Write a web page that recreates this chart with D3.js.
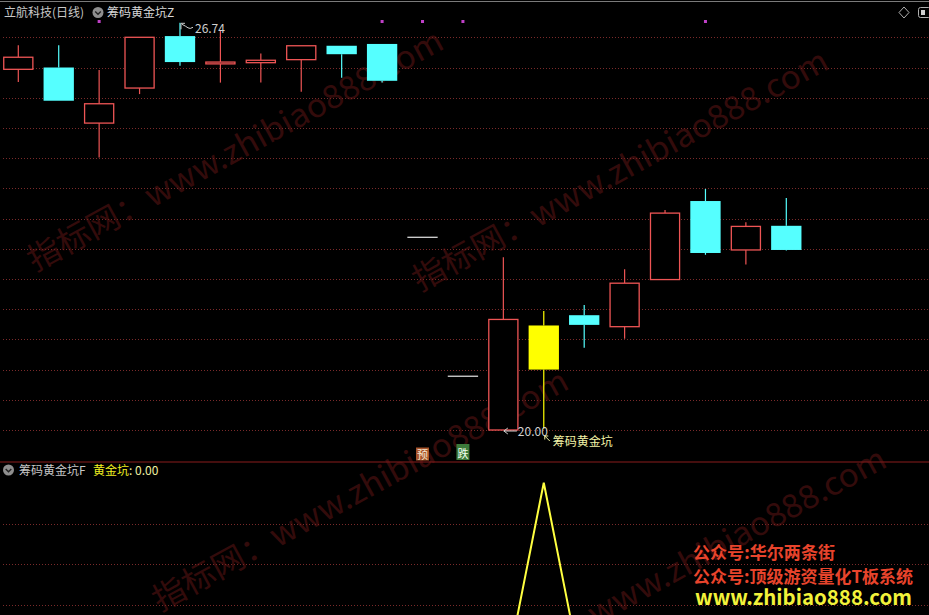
<!DOCTYPE html>
<html>
<head>
<meta charset="utf-8">
<script src="https://cdn.jsdelivr.net/npm/d3@7/dist/d3.min.js"></script>
<style>
  html, body { margin: 0; padding: 0; background: #000; }
  svg { display: block; }
  text { font-family: "Noto Sans CJK SC", "Noto Sans", sans-serif; }
</style>
</head>
<body>
<svg id="chart" width="929" height="615"></svg>
<script>
// ---------------- data ----------------
const categories = ["D01","D02","D03","D04","D05","D06","D07","D08","D09","D10",
                    "D11","D12","D13","D14","D15","D16","D17","D18","D19","D20"];
const openP  = [25.97, 26.00, 25.08, 25.66, 26.52, 26.06, 26.08, 26.13, 26.36, 26.39,
                23.19, 20.89, 20.00, 21.73, 21.90, 21.71, 22.49, 23.79, 22.98, 23.38];
const highP  = [26.37, 26.37, 25.96, 26.50, 26.74, 26.62, 26.23, 26.36, 26.36, 26.39,
                23.19, 20.89, 22.86, 21.97, 22.07, 22.66, 23.64, 23.99, 23.44, 23.84];
const lowP   = [25.76, 25.45, 24.51, 25.56, 26.03, 25.75, 25.75, 25.60, 25.83, 25.75,
                23.19, 20.89, 20.00, 20.02, 21.36, 21.51, 22.49, 22.90, 22.74, 22.97];
const closeP = [26.17, 25.45, 25.40, 26.50, 26.09, 26.09, 26.12, 26.36, 26.22, 25.78,
                23.19, 20.89, 21.83, 21.00, 21.74, 22.43, 23.59, 22.93, 23.37, 22.98];
// 黄金坑 indicator (lower panel)
const pitSignal = [0,0,0,0,0,0,0,0,0,0, 0,0,0,1,0,0,0,0,0,0];
// purple marker dots above candles
const markerIdx = [2, 9, 10, 11, 17];
// grid ticks
const priceTicks = [20.0,20.5,21.0,21.5,22.0,22.5,23.0,23.5,24.0,24.5,25.0,25.5,26.0,26.5];
const pitTicks = [0.4, 0.6, 0.8];
// labels
const stockTitle = "立航科技(日线)";
const indName = "筹码黄金坑Z";
const lowerName = "筹码黄金坑F";
const lowerVarName = "黄金坑";
const lowerValue = "0.00";
const maxLabel = "26.74", minLabel = "20.00", pitLabel = "筹码黄金坑";

// ---------------- layout ----------------
const W = 929, H = 615;
const svg = d3.select("#chart");
svg.append("rect").attr("width", W).attr("height", H).attr("fill", "#000");

const x = d3.scaleLinear().domain([0, 19]).range([18.3, 786.3]);
const step = x(1) - x(0);
const bw = step * 0.75;
const y = d3.scaleLinear().domain([20, 26.5]).range([430, 37.3]);
const y2 = d3.scaleLinear().domain([0, 1]).range([686.7, 482.7]);

const RED = "#ee5555", CYAN = "#55ffff", YEL = "#ffff00";
const GRID = "#7a2a2a";

// top border
svg.append("line").attr("x1", 0).attr("x2", W).attr("y1", 1.5).attr("y2", 1.5)
  .attr("stroke", "#7a7a7a").attr("stroke-width", 1.2);

// upper grid
svg.append("g").selectAll("line").data(priceTicks).join("line")
  .attr("x1", 3).attr("x2", W)
  .attr("y1", d => Math.round(y(d)) + 0.5).attr("y2", d => Math.round(y(d)) + 0.5)
  .attr("stroke", GRID).attr("stroke-dasharray", "1,2");

// lower grid
svg.append("g").selectAll("line").data(pitTicks).join("line")
  .attr("x1", 3).attr("x2", W)
  .attr("y1", d => Math.round(y2(d)) + 0.5).attr("y2", d => Math.round(y2(d)) + 0.5)
  .attr("stroke", GRID).attr("stroke-dasharray", "1,2");

// separator
svg.append("line").attr("x1", 0).attr("x2", W).attr("y1", 462).attr("y2", 462)
  .attr("stroke", "#8a1c1c").attr("stroke-width", 1.2);

// ---------------- watermarks (behind marks) ----------------
const wmText = "指标网：www.zhibiao888.com";
const wms = [[35, 272], [420, 292], [160, 612], [478, 690]];
svg.append("g").selectAll("text").data(wms).join("text")
  .attr("transform", d => `translate(${d[0]},${d[1]}) rotate(-28.6)`)
  .attr("font-size", 32).attr("fill", "#7a1c1c").attr("opacity", 0.42)
  .attr("textLength", 468).attr("lengthAdjust", "spacingAndGlyphs")
  .text(wmText);

// ---------------- candles ----------------
const candles = categories.map((c, i) => ({
  c, i, o: openP[i], h: highP[i], l: lowP[i], cl: closeP[i], sig: pitSignal[i]
}));
const gC = svg.append("g");
candles.forEach(d => {
  const cx = x(d.i);
  const top = Math.max(d.o, d.cl), bot = Math.min(d.o, d.cl);
  if (d.h === d.l) {
    gC.append("line").attr("x1", cx - bw / 2).attr("x2", cx + bw / 2)
      .attr("y1", y(d.h)).attr("y2", y(d.h)).attr("stroke", "#e8e8e8").attr("stroke-width", 1.2);
    return;
  }
  let col, hollow;
  if (d.sig) { col = YEL; hollow = false; }
  else if (d.cl >= d.o) { col = RED; hollow = true; }
  else { col = CYAN; hollow = false; }
  if (d.h > top) gC.append("line").attr("x1", cx).attr("x2", cx)
    .attr("y1", y(d.h)).attr("y2", y(top)).attr("stroke", col).attr("stroke-width", 1.2);
  if (d.l < bot) gC.append("line").attr("x1", cx).attr("x2", cx)
    .attr("y1", y(bot)).attr("y2", y(d.l)).attr("stroke", col).attr("stroke-width", 1.2);
  const ry = y(top), rh = Math.max(1, y(bot) - y(top));
  if (hollow) {
    gC.append("rect").attr("x", cx - bw / 2 + 0.6).attr("y", ry).attr("width", bw - 1.2)
      .attr("height", rh).attr("fill", "#000").attr("stroke", col).attr("stroke-width", 1.3);
  } else {
    gC.append("rect").attr("x", cx - bw / 2).attr("y", ry).attr("width", bw)
      .attr("height", rh).attr("fill", col);
  }
});

// markers
svg.append("g").selectAll("rect").data(markerIdx).join("rect")
  .attr("x", d => x(d) - 1.5).attr("y", 20).attr("width", 3).attr("height", 3)
  .attr("fill", "#c040c8");

// ---------------- annotations ----------------
const iMax = highP.indexOf(d3.max(highP));
const iMin = lowP.indexOf(d3.min(lowP));
const iPit = pitSignal.indexOf(1);
const LG = "#d0d0d0";
{
  const px = x(iMax) + 1, py = y(highP[iMax]) + 0.5;
  const g = svg.append("g").attr("stroke", LG).attr("stroke-width", 1).attr("fill", "none");
  g.append("path").attr("d", `M${px},${py + 6} L${px},${py} L${px + 4},${py}`);
  g.append("path").attr("d", `M${px + 1},${py + 1} Q${px + 5},${py + 3} ${px + 7},${py + 4.5} T${px + 12},${py + 4}`);
  svg.append("text").attr("x", px + 14).attr("y", py + 9.5).attr("fill", LG)
    .attr("font-size", 12).text(maxLabel);
}
{
  const px = x(iMin) + 0.5, py = y(lowP[iMin]) + 1;
  const g = svg.append("g").attr("stroke", LG).attr("stroke-width", 1).attr("fill", "none");
  g.append("path").attr("d", `M${px},${py} L${px + 13},${py} M${px},${py} L${px + 4},${py - 3} M${px},${py} L${px + 4},${py + 3}`);
  svg.append("text").attr("x", px + 14).attr("y", py + 4.5).attr("fill", LG)
    .attr("font-size", 12).text(minLabel);
}
{
  const px = x(iPit) + 1, py = 436;
  const g = svg.append("g").attr("stroke", "#f0f0a0").attr("stroke-width", 1).attr("fill", "none");
  g.append("path").attr("d", `M${px},${py} L${px + 5},${py + 5} M${px},${py} L${px + 3.5},${py} M${px},${py} L${px},${py + 3.5}`);
  svg.append("text").attr("x", px + 8).attr("y", py + 10).attr("fill", "#f4f4a8")
    .attr("font-size", 12).text(pitLabel);
}
function tagBox(cx, y0, h, bg, fg, t) {
  svg.append("rect").attr("x", cx - 6.5).attr("y", y0).attr("width", 13).attr("height", h).attr("fill", bg);
  svg.append("text").attr("x", cx).attr("y", y0 + h - 2).attr("text-anchor", "middle")
    .attr("font-size", 11).attr("fill", fg).text(t);
}
tagBox(x(10), 447.5, 13, "#a8542a", "#f8e8d0", "预");
tagBox(x(11), 444, 16, "#3c7a3a", "#f0fff0", "跌");

// ---------------- headers ----------------
function chevIcon(cx, cy) {
  svg.append("circle").attr("cx", cx).attr("cy", cy).attr("r", 5.5).attr("fill", "#8e8e8e");
  svg.append("path").attr("d", `M${cx - 2.8},${cy - 1} L${cx},${cy + 1.8} L${cx + 2.8},${cy - 1}`)
    .attr("stroke", "#222").attr("stroke-width", 1.4).attr("fill", "none");
}
svg.append("text").attr("x", 4).attr("y", 17).attr("font-size", 12).attr("fill", "#c8c8c8").text(stockTitle);
chevIcon(98, 12.5);
svg.append("text").attr("x", 107).attr("y", 17).attr("font-size", 12).attr("fill", "#d8d8d8").text(indName);

chevIcon(8.5, 470);
svg.append("text").attr("x", 19).attr("y", 475).attr("font-size", 12).attr("fill", "#c8c8c8").text(lowerName);
const tv = svg.append("text").attr("x", 93).attr("y", 475).attr("font-size", 12);
tv.append("tspan").attr("fill", "#f0f020").text(lowerVarName);
tv.append("tspan").attr("fill", "#f0f0a0").text(": " + lowerValue);

// top-right icons
svg.append("path").attr("d", "M904,7 L909,12.5 L904,18 L899,12.5 Z")
  .attr("fill", "none").attr("stroke", "#b0b0b0").attr("stroke-width", 1);
svg.append("rect").attr("x", 918.5).attr("y", 7.5).attr("width", 12).attr("height", 10).attr("rx", 2)
  .attr("fill", "none").attr("stroke", "#b0b0b0").attr("stroke-width", 1);
svg.append("rect").attr("x", 921).attr("y", 10).attr("width", 4).attr("height", 5).attr("fill", "#d0d0d0");

// ---------------- lower indicator line ----------------
svg.append("clipPath").attr("id", "lowclip").append("rect")
  .attr("x", 0).attr("y", 463).attr("width", W).attr("height", H - 463);
svg.append("path").datum(pitSignal)
  .attr("clip-path", "url(#lowclip)")
  .attr("d", d3.line().x((d, i) => x(i)).y(d => y2(d)))
  .attr("fill", "none").attr("stroke", "#ffff40").attr("stroke-width", 2);

// ---------------- bottom-right promo ----------------
const promo1 = "公众号:华尔两条街", promo2 = "公众号:顶级游资量化T板系统", promo3 = "www.zhibiao888.com";
svg.append("text").attr("x", 693).attr("y", 559).attr("font-size", 17).attr("font-weight", "bold")
  .attr("fill", "#e8442c").attr("textLength", 142).attr("lengthAdjust", "spacingAndGlyphs").text(promo1);
svg.append("text").attr("x", 693).attr("y", 583).attr("font-size", 17).attr("font-weight", "bold")
  .attr("fill", "#e8442c").attr("textLength", 220).attr("lengthAdjust", "spacingAndGlyphs").text(promo2);
svg.append("text").attr("x", 695).attr("y", 605).attr("font-size", 21).attr("font-weight", "bold")
  .attr("fill", "#f2f23a").attr("textLength", 217).attr("lengthAdjust", "spacingAndGlyphs").text(promo3);
</script>
</body>
</html>
